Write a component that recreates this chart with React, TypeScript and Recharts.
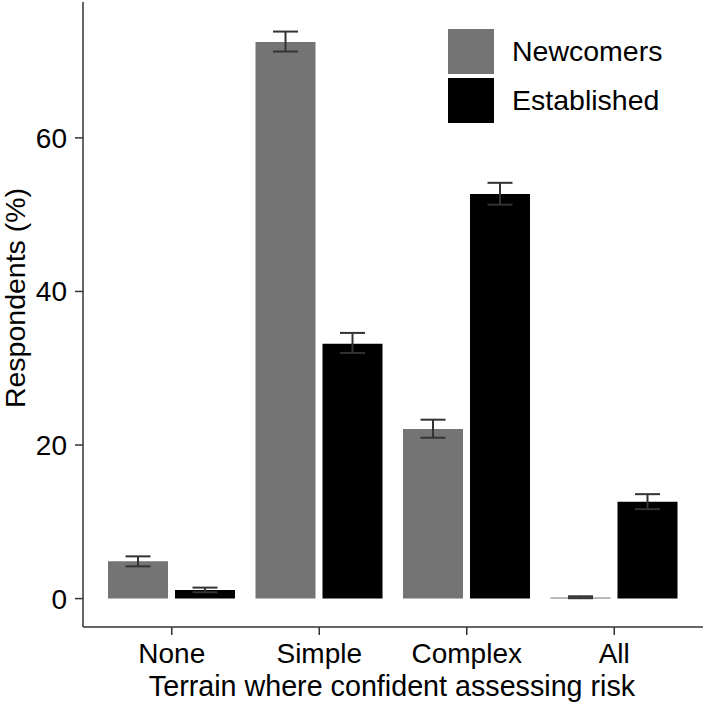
import React from 'react';
import { BarChart, Bar, XAxis, YAxis, ErrorBar } from 'recharts';

const categories = ['None', 'Simple', 'Complex', 'All'];
const seriesNames = ['Newcomers', 'Established'];
const newcomers = [4.85, 72.5, 22.1, 0.15];
const newcomersLow = [4.2, 71.25, 20.95, 0.05];
const newcomersHigh = [5.5, 73.85, 23.3, 0.3];
const established = [1.13, 33.2, 52.7, 12.6];
const establishedLow = [0.82, 32.0, 51.3, 11.65];
const establishedHigh = [1.43, 34.6, 54.15, 13.6];
const yTicks = [0, 20, 40, 60];
const colors = ['#747474', '#000000'];

const data = categories.map((c, i) => ({
  category: c,
  newcomers: newcomers[i],
  newcomersErr: [newcomers[i] - newcomersLow[i], newcomersHigh[i] - newcomers[i]],
  established: established[i],
  establishedErr: [established[i] - establishedLow[i], establishedHigh[i] - established[i]],
}));

const FONT = '"Liberation Sans", Arial, Helvetica, sans-serif';
const AXIS = '#333333';

const YTitle = () => (
  <text
    x={25}
    y={298}
    transform="rotate(-90 25 298)"
    textAnchor="middle"
    fontSize={28.5}
    fontFamily={FONT}
    fill="#000"
  >
    Respondents (%)
  </text>
);

const XTitle = () => (
  <text x={392} y={696} textAnchor="middle" fontSize={28.7} fontFamily={FONT} fill="#000">
    Terrain where confident assessing risk
  </text>
);

export default function App() {
  return (
    <div style={{ position: 'absolute', left: 0, top: 0, width: 705, height: 705, background: '#fff' }}>
      <BarChart
        width={705}
        height={705}
        data={data}
        margin={{ top: 2, right: 2, left: 0, bottom: 0 }}
        barSize={60}
        barGap={7}
      >
        <XAxis
          dataKey="category"
          height={78}
          padding={{ left: 15, right: 15 }}
          axisLine={{ stroke: AXIS, strokeWidth: 1.5 }}
          tickLine={{ stroke: AXIS, strokeWidth: 1.5 }}
          tickSize={8}
          tickMargin={8}
          tick={{ fontSize: 28, fontFamily: FONT, fill: '#000' }}
          label={XTitle}
        />
        <YAxis
          width={83}
          type="number"
          domain={[-3.7, 77.7]}
          ticks={yTicks}
          allowDataOverflow
          axisLine={{ stroke: AXIS, strokeWidth: 1.5 }}
          tickLine={{ stroke: AXIS, strokeWidth: 1.5 }}
          tickSize={8}
          tickMargin={8}
          tick={{ fontSize: 28, fontFamily: FONT, fill: '#000' }}
          label={YTitle}
        />
        <Bar dataKey="newcomers" name={seriesNames[0]} fill={colors[0]} isAnimationActive={false}>
          <ErrorBar dataKey="newcomersErr" width={12.5} stroke={AXIS} strokeWidth={2} direction="y" />
        </Bar>
        <Bar dataKey="established" name={seriesNames[1]} fill={colors[1]} isAnimationActive={false}>
          <ErrorBar dataKey="establishedErr" width={12.5} stroke={AXIS} strokeWidth={2} direction="y" />
        </Bar>
      </BarChart>
      <div style={{ position: 'absolute', left: 448, top: 29, fontFamily: FONT, fontSize: 28.5, color: '#000' }}>
        {seriesNames.map((n, i) => (
          <div key={n} style={{ display: 'flex', alignItems: 'center', height: 45, marginBottom: 4 }}>
            <div style={{ width: 46, height: 45, background: colors[i] }} />
            <span style={{ marginLeft: 18, lineHeight: '45px' }}>{n}</span>
          </div>
        ))}
      </div>
    </div>
  );
}
